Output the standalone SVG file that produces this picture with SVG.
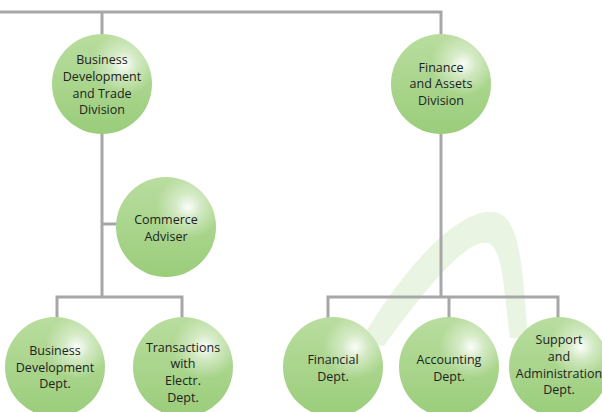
<svg xmlns="http://www.w3.org/2000/svg" width="602" height="412" viewBox="0 0 602 412">
<defs>
<linearGradient id="base" x1="0" y1="0" x2="0" y2="1">
<stop offset="0" stop-color="#b9dd9f"/>
<stop offset="1" stop-color="#9acd7a"/>
</linearGradient>
<radialGradient id="hl" cx="0.72" cy="0.3" r="0.32">
<stop offset="0" stop-color="#ffffff" stop-opacity="0.95"/>
<stop offset="0.4" stop-color="#ffffff" stop-opacity="0.45"/>
<stop offset="1" stop-color="#ffffff" stop-opacity="0"/>
</radialGradient>
<style>
.c{fill:url(#base)}
.h{fill:url(#hl)}
.t{font-family:"Open Sans","Noto Sans",sans-serif;font-size:12.5px;fill:#222;text-anchor:middle}
.ln{fill:none;stroke:#a7a7aa;stroke-width:3}
</style>
</defs>
<rect width="602" height="412" fill="#fff"/>
<path d="M 360 342 C 400 272, 458 207, 494 212 C 520 216, 522 262, 528 338 L 510 338 C 504 292, 503 252, 490 244 C 472 234, 430 282, 384 346 Z" fill="#eaf4e2"/>
<g id="connectors" class="ln">
<path d="M0 12 H441 V38"/>
<path d="M102 12 V38"/>
<path d="M102 130 V297"/>
<path d="M102 224 H118"/>
<path d="M57 323 V297 H182 V323"/>
<path d="M441 130 V297"/>
<path d="M328 323 V297 H558 V323"/>
<path d="M449 297 V323"/>
</g>
<g id="n-bdtd"><circle class="c" cx="102" cy="84" r="50"/><circle class="h" cx="102" cy="84" r="50"/>
<text class="t"><tspan x="102" y="64">Business</tspan><tspan x="102" y="81">Development</tspan><tspan x="102" y="98">and Trade</tspan><tspan x="102" y="114">Division</tspan></text></g>
<g id="n-fad"><circle class="c" cx="441" cy="84" r="50"/><circle class="h" cx="441" cy="84" r="50"/>
<text class="t"><tspan x="441" y="72">Finance</tspan><tspan x="441" y="88">and Assets</tspan><tspan x="441" y="105">Division</tspan></text></g>
<g id="n-ca"><circle class="c" cx="166" cy="227" r="50"/><circle class="h" cx="166" cy="227" r="50"/>
<text class="t"><tspan x="166" y="224">Commerce</tspan><tspan x="166" y="241">Adviser</tspan></text></g>
<g id="n-bdd"><circle class="c" cx="55" cy="367" r="50"/><circle class="h" cx="55" cy="367" r="50"/>
<text class="t"><tspan x="55" y="355">Business</tspan><tspan x="55" y="372">Development</tspan><tspan x="55" y="388">Dept.</tspan></text></g>
<g id="n-twe"><circle class="c" cx="183" cy="367" r="50"/><circle class="h" cx="183" cy="367" r="50"/>
<text class="t"><tspan x="183" y="352">Transactions</tspan><tspan x="183" y="368">with</tspan><tspan x="183" y="385">Electr.</tspan><tspan x="183" y="402">Dept.</tspan></text></g>
<g id="n-fd"><circle class="c" cx="333" cy="367" r="50"/><circle class="h" cx="333" cy="367" r="50"/>
<text class="t"><tspan x="333" y="364">Financial</tspan><tspan x="333" y="381">Dept.</tspan></text></g>
<g id="n-ad"><circle class="c" cx="449" cy="367" r="50"/><circle class="h" cx="449" cy="367" r="50"/>
<text class="t"><tspan x="449" y="364">Accounting</tspan><tspan x="449" y="381">Dept.</tspan></text></g>
<g id="n-sad"><circle class="c" cx="559" cy="367" r="50"/><circle class="h" cx="559" cy="367" r="50"/>
<text class="t"><tspan x="559" y="344">Support</tspan><tspan x="559" y="361">and</tspan><tspan x="559" y="378">Administration</tspan><tspan x="559" y="394">Dept.</tspan></text></g>
</svg>
